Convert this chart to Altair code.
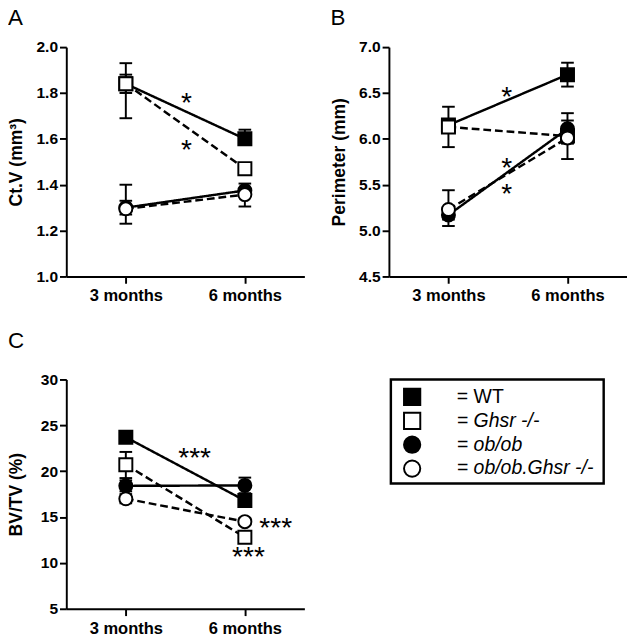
import altair as alt
import pandas as pd

FONT = "Liberation Sans"

groups = ["WT", "Ghsr -/-", "ob/ob", "ob/ob.Ghsr -/-"]
ages = ["3 months", "6 months"]
shapes = ["square", "square", "circle", "circle"]
fills = ["black", "white", "black", "white"]
dashes = [[1, 0], [8, 4], [1, 0], [8, 4]]

# Panel A: Ct.V (mm3)
a_3m = [1.84, 1.84, 1.30, 1.295]
a_6m = [1.60, 1.47, 1.375, 1.357]
a_lo_3m = [1.80, 1.69, 1.27, 1.23]
a_hi_3m = [1.88, 1.93, 1.33, 1.40]
a_lo_6m = [1.58, 1.45, 1.35, 1.305]
a_hi_6m = [1.64, 1.49, 1.405, 1.38]
a_star_x = [0.51, 0.51]
a_star_y = [1.78, 1.575]
a_star_t = ["*", "*"]

# Panel B: Perimeter (mm)
b_3m = [6.15, 6.13, 5.17, 5.23]
b_6m = [6.70, 6.03, 6.11, 6.01]
b_lo_3m = [6.10, 5.91, 5.05, 5.12]
b_hi_3m = [6.20, 6.35, 5.25, 5.44]
b_lo_6m = [6.57, 5.95, 5.95, 5.78]
b_hi_6m = [6.83, 6.10, 6.28, 6.20]
b_star_x = [0.49, 0.49, 0.49]
b_star_y = [6.52, 5.74, 5.46]
b_star_t = ["*", "*", "*"]

# Panel C: BV/TV (%)
c_3m = [23.7, 20.7, 18.4, 17.0]
c_6m = [16.8, 12.8, 18.45, 14.5]
c_lo_3m = [23.3, 19.25, 17.8, 16.5]
c_hi_3m = [24.1, 22.1, 19.0, 17.5]
c_lo_6m = [16.3, 12.4, 17.6, 14.2]
c_hi_6m = [17.3, 13.2, 19.3, 14.9]
c_star_x = [0.578, 1.26, 1.03]
c_star_y = [22.1, 14.4, 11.2]
c_star_t = ["***", "***", "***"]

legend_labels = ["= WT", "= Ghsr -/-", "= ob/ob", "= ob/ob.Ghsr -/-"]

PW, PH = 245, 236


def make_df(v3, v6, lo3, hi3, lo6, hi6):
    rows = []
    for i, g in enumerate(groups):
        rows.append(dict(group=g, t=0, value=v3[i], lo=lo3[i], hi=hi3[i]))
        rows.append(dict(group=g, t=1, value=v6[i], lo=lo6[i], hi=hi6[i]))
    return pd.DataFrame(rows)


def panel(letter, df, sx, sy, st, ytitle, ydom, yvals, yfmt, toff):
    xenc = alt.X(
        "t:Q",
        scale=alt.Scale(domain=[-0.5, 1.5]),
        axis=alt.Axis(
            values=[0, 1],
            labelExpr=f"datum.value == 0 ? '{ages[0]}' : '{ages[1]}'",
            title=None,
            labelFontSize=17,
            labelPadding=5,
        ),
    )
    yscale = alt.Scale(domain=ydom, nice=False, zero=False)
    yaxis = alt.Axis(
        values=yvals, format=yfmt, title=ytitle,
        minExtent=33, maxExtent=33, titlePadding=9,
    )
    base = alt.Chart(df)
    lines = base.mark_line(color="black", strokeWidth=2.5).encode(
        x=xenc,
        y=alt.Y("value:Q", scale=yscale, axis=yaxis),
        detail="group:N",
        strokeDash=alt.StrokeDash(
            "group:N", scale=alt.Scale(domain=groups, range=dashes), legend=None
        ),
    )
    rules = base.mark_rule(color="black", strokeWidth=2).encode(
        x=xenc, y=alt.Y("lo:Q", scale=yscale), y2="hi:Q"
    )
    tick_lo = base.mark_tick(
        orient="horizontal", size=13, thickness=2, color="black", opacity=1
    ).encode(x=xenc, y=alt.Y("lo:Q", scale=yscale))
    tick_hi = base.mark_tick(
        orient="horizontal", size=13, thickness=2, color="black", opacity=1
    ).encode(x=xenc, y=alt.Y("hi:Q", scale=yscale))
    points = base.mark_point(
        filled=True, size=180, stroke="black", strokeWidth=2, opacity=1
    ).encode(
        x=xenc,
        y=alt.Y("value:Q", scale=yscale),
        shape=alt.Shape(
            "group:N", scale=alt.Scale(domain=groups, range=shapes), legend=None
        ),
        fill=alt.Fill(
            "group:N", scale=alt.Scale(domain=groups, range=fills), legend=None
        ),
    )
    sdf = pd.DataFrame({"x": sx, "y": sy, "t": st})
    stars = alt.Chart(sdf).mark_text(
        fontSize=29, font=FONT, color="black", baseline="middle", dy=6
    ).encode(
        x=alt.X("x:Q", scale=alt.Scale(domain=[-0.5, 1.5])),
        y=alt.Y("y:Q", scale=yscale),
        text="t:N",
    )
    return alt.layer(lines, rules, tick_lo, tick_hi, points, stars).properties(
        width=PW,
        height=PH,
        title=alt.TitleParams(
            letter, anchor="start", fontSize=23, fontWeight="normal",
            font=FONT, color="black", offset=toff,
        ),
    )


A = panel("A", make_df(a_3m, a_6m, a_lo_3m, a_hi_3m, a_lo_6m, a_hi_6m),
          a_star_x, a_star_y, a_star_t, "Ct.V (mm³)", [1.0, 2.0],
          [1.0, 1.2, 1.4, 1.6, 1.8, 2.0], ".1f", 10)
B = panel("B", make_df(b_3m, b_6m, b_lo_3m, b_hi_3m, b_lo_6m, b_hi_6m),
          b_star_x, b_star_y, b_star_t, "Perimeter (mm)", [4.5, 7.0],
          [4.5, 5.0, 5.5, 6.0, 6.5, 7.0], ".1f", 10)
C = panel("C", make_df(c_3m, c_6m, c_lo_3m, c_hi_3m, c_lo_6m, c_hi_6m),
          c_star_x, c_star_y, c_star_t, "BV/TV (%)", [5, 30],
          [5, 10, 15, 20, 25, 30], "d", 19)

ldf = pd.DataFrame({
    "group": groups,
    "label": legend_labels,
    "row": list(range(len(groups))),
    "italic": [False, True, True, True],
})
lx = alt.Scale(domain=[0, 1])
ly = alt.Scale(domain=[-0.73, 3.62], reverse=True)
lbase = alt.Chart(ldf)
lsym = lbase.mark_point(
    filled=True, size=280, stroke="black", strokeWidth=2, opacity=1
).encode(
    x=alt.X("xs:Q", scale=lx, axis=None),
    y=alt.Y("row:Q", scale=ly, axis=None),
    shape=alt.Shape("group:N", scale=alt.Scale(domain=groups, range=shapes), legend=None),
    fill=alt.Fill("group:N", scale=alt.Scale(domain=groups, range=fills), legend=None),
).transform_calculate(xs="0.1")
ltxt_n = lbase.transform_filter("!datum.italic").transform_calculate(xt="0.31").mark_text(
    align="left", baseline="middle", fontSize=20, font=FONT, color="black"
).encode(x=alt.X("xt:Q", scale=lx, axis=None), y=alt.Y("row:Q", scale=ly, axis=None), text="label:N")
ltxt_i = lbase.transform_filter("datum.italic").transform_calculate(xt="0.31").mark_text(
    align="left", baseline="middle", fontSize=20, font=FONT, color="black",
    fontStyle="italic",
).encode(x=alt.X("xt:Q", scale=lx, axis=None), y=alt.Y("row:Q", scale=ly, axis=None), text="label:N")
L = alt.layer(lsym, ltxt_n, ltxt_i).properties(
    width=219, height=107,
    view=alt.ViewBackground(stroke="black", strokeWidth=2.5, fill="white"),
)

chart = alt.vconcat(
    alt.hconcat(A, B, spacing=87, bounds="flush"),
    alt.hconcat(C, L, spacing=89, bounds="flush"),
    spacing=28,
).properties(
    padding={"left": 0, "top": -10, "right": 0, "bottom": 0},
    background="white",
).configure_view(
    stroke=None
).configure_axis(
    grid=False,
    domainColor="black",
    domainWidth=2,
    tickColor="black",
    tickWidth=2,
    tickSize=7,
    labelFont=FONT,
    labelFontSize=16,
    labelFontWeight="bold",
    labelColor="black",
    titleFont=FONT,
    titleFontSize=18,
    titleFontWeight="bold",
    titleColor="black",
).resolve_scale(shape="independent", fill="independent")

chart.save("out.html", embed_options={"renderer": "svg", "actions": False})
